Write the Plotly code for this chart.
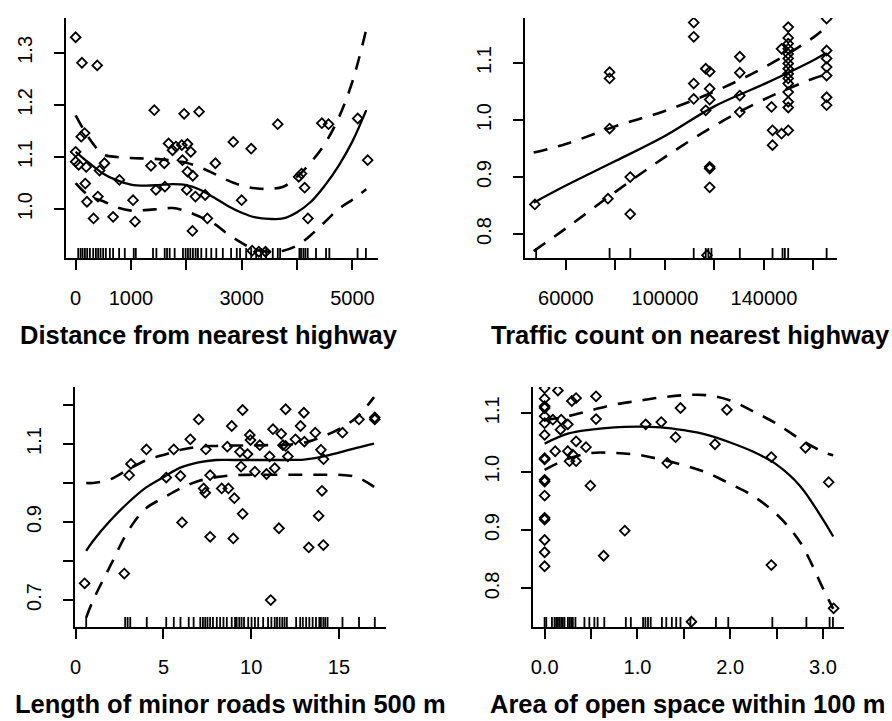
import plotly.graph_objects as go

# ---------------- Panel 1: Distance from nearest highway ----------------
dist_x = [0, 114, 390, 1421, 1960, 2230, 3651, 4448, 4568, 5096, 5276, 2848, 3171,
          162, 102, 0, 0, 54, 192, 521, 432, 174, 204, 402, 324, 677, 791, 1037,
          1073, 1361, 1451, 1601, 1613, 1679, 1751, 1811, 1918, 2020, 1930, 2020,
          2080, 2116, 2008, 2164, 2110, 2380, 2524, 2998, 3189, 3309, 3430, 4029,
          4080, 4137, 4196, 2340]
dist_y = [1.330, 1.281, 1.276, 1.190, 1.183, 1.187, 1.163, 1.165, 1.163, 1.174, 1.094,
          1.129, 1.116, 1.146, 1.139, 1.110, 1.091, 1.085, 1.081, 1.088, 1.074, 1.049,
          1.014, 1.024, 0.982, 0.985, 1.056, 1.017, 0.976, 1.083, 1.037, 1.088, 1.043,
          1.126, 1.113, 1.120, 1.123, 1.125, 1.094, 1.072, 1.110, 1.064, 1.037, 1.024,
          0.958, 0.982, 1.088, 1.017, 0.920, 0.918, 0.918, 1.062, 1.068, 1.041, 0.982,
          1.027]
dist_cx = [0, 250, 500, 750, 1000, 1250, 1500, 1750, 2000, 2250, 2500, 2750, 3000,
           3250, 3500, 3750, 4000, 4250, 4500, 4750, 5000, 5250]
dist_fit = [1.110, 1.088, 1.068, 1.055, 1.047, 1.045, 1.046, 1.048, 1.046, 1.037, 1.022,
            1.006, 0.993, 0.984, 0.981, 0.982, 0.994, 1.014, 1.045, 1.083, 1.130, 1.190]
dist_up = [1.180, 1.135, 1.105, 1.100, 1.098, 1.097, 1.096, 1.093, 1.089, 1.080, 1.068,
           1.055, 1.045, 1.040, 1.039, 1.043, 1.062, 1.090, 1.125, 1.175, 1.245, 1.345]
dist_lo = [1.050, 1.025, 1.015, 1.003, 0.997, 0.998, 1.000, 1.002, 0.996, 0.985, 0.972,
           0.952, 0.935, 0.922, 0.918, 0.920, 0.930, 0.950, 0.975, 1.000, 1.018, 1.038]
dist_rug = [47, 90, 126, 168, 209, 258, 317, 366, 407, 450, 497, 546, 618, 677, 786, 888,
            1050, 1087, 1398, 1459, 1609, 1651, 1699, 1789, 1939, 1987, 2029, 2072, 2119,
            2168, 2209, 2270, 2360, 2450, 2541, 2659, 2808, 2911, 2970, 3081, 3171, 3261,
            3351, 3441, 3561, 3652, 3694, 4042, 4072, 4114, 4150, 4192, 4342, 4523, 4583,
            5093, 5243]
dist_ticks = [0, 1000, 2000, 3000, 4000, 5000]
dist_ticktext = ["0", "1000", "", "3000", "", "5000"]
dist_yticks = [1.0, 1.1, 1.2, 1.3]
dist_yticktext = ["1.0", "1.1", "1.2", "1.3"]

# ---------------- Panel 2: Traffic count on nearest highway ----------------
traf_x = [47500, 77667, 77667, 77667, 77000, 86000, 86000, 111650, 111650, 111650,
          111650, 116500, 118100, 118100, 118100, 116500, 118100, 118100, 118100, 117000,
          130260, 130260, 130260, 130260, 143070, 143475, 143475, 147116, 149813, 149813,
          147116,
          149813, 149813, 149813, 149813, 149813, 149813, 149813, 149813, 149813, 149813,
          149813, 149813, 149813,
          165327, 165327, 165327, 165327, 165327, 165327, 165327]
traf_y = [0.852, 1.084, 1.073, 0.985, 0.862, 0.900, 0.835, 1.171, 1.146, 1.064,
          1.037, 1.090, 1.085, 1.055, 1.036, 1.017, 0.918, 0.915, 0.882, 0.763,
          1.111, 1.083, 1.043, 1.014, 1.023, 0.982, 0.956, 0.976, 0.982, 1.022,
          1.125,
          1.163, 1.144, 1.134, 1.125, 1.116, 1.108, 1.099, 1.090, 1.081, 1.073,
          1.064, 1.049, 1.032,
          1.178, 1.122, 1.108, 1.093, 1.078, 1.040, 1.026]
traf_cx = [47000, 60000, 80000, 100000, 120000, 140000, 160000, 165000]
traf_fit = [0.855, 0.885, 0.928, 0.972, 1.024, 1.063, 1.105, 1.117]
traf_up = [0.943, 0.958, 0.989, 1.016, 1.050, 1.092, 1.145, 1.163]
traf_lo = [0.770, 0.810, 0.874, 0.935, 0.990, 1.036, 1.073, 1.080]
traf_rug = [48000, 77667, 86027, 111650, 116500, 117580, 118800, 130260, 143475,
            147520, 148460, 149810, 165327]
traf_ticks = [60000, 80000, 100000, 120000, 140000, 160000]
traf_ticktext = ["60000", "", "100000", "", "140000", ""]
traf_yticks = [0.8, 0.9, 1.0, 1.1]
traf_yticktext = ["0.8", "0.9", "1.0", "1.1"]

# ---------------- Panel 3: Length of minor roads within 500 m ----------------
road_x = [0.51, 2.77, 3.05, 3.15, 4.03, 5.16, 5.59, 5.97, 6.06, 6.53, 7.01, 7.29, 7.38,
          7.42, 7.66, 7.66, 8.32, 8.64, 8.70, 8.89, 8.98, 9.04, 9.36, 9.42, 9.51, 9.51,
          9.79, 9.92, 9.96, 10.21, 10.49, 10.87, 11.05, 11.11, 11.24, 11.34, 11.58,
          11.71, 11.81, 11.96, 11.96, 12.09, 12.52, 12.81, 13.00, 13.03, 13.28, 13.65,
          13.84, 13.97, 14.03, 14.11, 14.12, 15.20, 16.14, 17.04, 17.04]
road_y = [0.743, 0.768, 1.020, 1.049, 1.086, 1.014, 1.086, 1.018, 0.899, 1.112, 1.163,
          0.986, 0.975, 1.086, 1.020, 0.862, 0.986, 1.093, 0.986, 1.146, 0.858, 0.961,
          1.080, 1.042, 1.187, 0.921, 1.074, 1.123, 1.110, 1.029, 1.097, 1.023, 1.068,
          0.700, 1.138, 1.038, 0.884, 1.126, 1.097, 1.095, 1.189, 1.068, 1.112, 1.146,
          1.180, 1.106, 0.835, 1.129, 0.916, 1.085, 0.980, 0.841, 1.061, 1.129, 1.163,
          1.168, 1.163]
road_cx = [0.6, 1, 2, 3, 4, 5, 6, 7, 8, 9, 10, 11, 12, 13, 14, 15, 16, 17]
road_fit = [0.826, 0.852, 0.905, 0.950, 0.988, 1.015, 1.040, 1.053, 1.059, 1.059, 1.059,
            1.059, 1.059, 1.060, 1.067, 1.078, 1.090, 1.101]
road_up = [1.000, 1.000, 1.010, 1.035, 1.058, 1.072, 1.085, 1.093, 1.095, 1.096, 1.096,
           1.097, 1.098, 1.103, 1.118, 1.138, 1.168, 1.220]
road_lo = [0.655, 0.700, 0.790, 0.878, 0.935, 0.962, 0.987, 1.005, 1.015, 1.020, 1.021,
           1.021, 1.021, 1.021, 1.021, 1.021, 1.015, 0.990]
road_rug = [0.60, 2.82, 2.96, 3.11, 4.05, 5.16, 5.59, 5.97, 6.44, 6.72, 7.10, 7.25, 7.38,
            7.51, 7.66, 7.82, 8.04, 8.23, 8.42, 8.61, 8.89, 9.08, 9.17, 9.32, 9.45, 9.59,
            9.83, 10.02, 10.21, 10.40, 10.68, 10.96, 11.15, 11.34, 11.47, 11.62, 11.77,
            11.90, 12.03, 12.56, 12.79, 12.94, 13.13, 13.31, 13.50, 13.69, 13.88, 13.97,
            14.11, 14.22, 14.35, 15.20, 16.14, 17.04]
road_ticks = [0, 5, 10, 15]
road_ticktext = ["0", "5", "10", "15"]
road_yticks = [0.7, 0.8, 0.9, 1.0, 1.1, 1.2]
road_yticktext = ["0.7", "", "0.9", "", "1.1", ""]

# ---------------- Panel 4: Area of open space within 100 m ----------------
open_x = [0, 0, 0, 0, 0, 0, 0, 0, 0, 0, 0, 0, 0, 0, 0, 0, 0,
          0.143, 0.089, 0.179, 0.171, 0.25, 0.293, 0.339, 0.554, 0.554, 0.114, 0.25,
          0.339, 0.446, 0.268, 0.339, 0.304, 0.493, 0.864, 0.636, 1.089, 1.257, 1.464,
          1.411, 1.321, 1.836, 1.964, 2.443, 2.443, 2.811, 3.061, 3.114, 1.582]
open_y = [1.143, 1.125, 1.112, 1.109, 1.095, 1.083, 1.063, 1.023, 1.021, 0.986, 0.983,
          0.959, 0.921, 0.918, 0.883, 0.862, 0.838,
          1.139, 1.089, 1.089, 1.072, 1.081, 1.121, 1.126, 1.129, 1.090, 1.035, 1.035,
          1.052, 1.042, 1.018, 1.018, 1.029, 0.976, 0.899, 0.856, 1.081, 1.085, 1.109,
          1.059, 1.015, 1.047, 1.106, 1.025, 0.840, 1.041, 0.982, 0.766, 0.743]
open_cx = [0.0, 0.25, 0.5, 0.75, 1.0, 1.25, 1.5, 1.75, 2.0, 2.25, 2.5, 2.75, 3.0, 3.11]
open_fit = [1.048, 1.065, 1.072, 1.076, 1.077, 1.076, 1.071, 1.063, 1.050, 1.034, 1.012,
            0.976, 0.918, 0.889]
open_up = [1.088, 1.095, 1.105, 1.115, 1.121, 1.127, 1.131, 1.131, 1.122, 1.103, 1.082,
           1.056, 1.034, 1.028]
open_lo = [1.003, 1.022, 1.032, 1.032, 1.029, 1.021, 1.011, 0.998, 0.979, 0.958, 0.927,
           0.880, 0.800, 0.765]
open_rug = [0, 0.018, 0.079, 0.107, 0.125, 0.143, 0.161, 0.179, 0.196, 0.214, 0.25,
            0.268, 0.286, 0.304, 0.332, 0.429, 0.482, 0.536, 0.571, 0.643, 0.875, 0.929,
            1.061, 1.086, 1.114, 1.143, 1.264, 1.311, 1.371, 1.418, 1.464, 1.571, 1.846,
            1.979, 2.454, 2.821, 3.071, 3.107]
open_ticks = [0, 0.5, 1.0, 1.5, 2.0, 2.5, 3.0]
open_ticktext = ["0.0", "", "1.0", "", "2.0", "", "3.0"]
open_yticks = [0.8, 0.9, 1.0, 1.1]
open_yticktext = ["0.8", "0.9", "1.0", "1.1"]

titles = ["Distance from nearest highway", "Traffic count on nearest highway",
          "Length of minor roads within 500 m", "Area of open space within 100 m"]

W, H = 892, 721
FONT = "Liberation Sans"

panels = [
    dict(px=dist_x, py=dist_y, cx=dist_cx, fit=dist_fit, up=dist_up, lo=dist_lo, rug=dist_rug,
         box=(61, 375, 18, 258), xr=[-180, 5460], yr=[0.906, 1.367],
         xt=dist_ticks, xtt=dist_ticktext, yt=dist_yticks, ytt=dist_yticktext,
         title_pos=(205, 335)),
    dict(px=traf_x, py=traf_y, cx=traf_cx, fit=traf_fit, up=traf_up, lo=traf_lo, rug=traf_rug,
         box=(523, 837, 18, 258), xr=[43530, 169640], yr=[0.758, 1.179],
         xt=traf_ticks, xtt=traf_ticktext, yt=traf_yticks, ytt=traf_yticktext,
         title_pos=(689, 335)),
    dict(px=road_x, py=road_y, cx=road_cx, fit=road_fit, up=road_up, lo=road_lo, rug=road_rug,
         box=(70, 383, 387, 627), xr=[-0.06, 17.67], yr=[0.631, 1.246],
         xt=road_ticks, xtt=road_ticktext, yt=road_yticks, ytt=road_yticktext,
         title_pos=(227, 704)),
    dict(px=open_x, py=open_y, cx=open_cx, fit=open_fit, up=open_up, lo=open_lo, rug=open_rug,
         box=(531, 844, 387, 627), xr=[-0.125, 3.229], yr=[0.734, 1.145],
         xt=open_ticks, xtt=open_ticktext, yt=open_yticks, ytt=open_yticktext,
         title_pos=(686, 704)),
]

fig = go.Figure()
shapes = []
annotations = []
layout_axes = {}

for k, p in enumerate(panels, start=1):
    xa = "x" if k == 1 else f"x{k}"
    ya = "y" if k == 1 else f"y{k}"
    xname = "xaxis" if k == 1 else f"xaxis{k}"
    yname = "yaxis" if k == 1 else f"yaxis{k}"
    x0, x1, y0, y1 = p["box"]

    fig.add_trace(go.Scatter(x=p["px"], y=p["py"], mode="markers", xaxis=xa, yaxis=ya,
                             marker=dict(symbol="diamond-open", size=7.5, color="black",
                                         line=dict(width=1.8, color="black")),
                             hoverinfo="skip"))
    fig.add_trace(go.Scatter(x=p["cx"], y=p["fit"], mode="lines", xaxis=xa, yaxis=ya,
                             line=dict(color="black", width=2.3, shape="spline")))
    for band in (p["up"], p["lo"]):
        fig.add_trace(go.Scatter(x=p["cx"], y=band, mode="lines", xaxis=xa, yaxis=ya,
                                 line=dict(color="black", width=2.6, shape="spline",
                                           dash="14px,11px")))

    for v in p["rug"]:
        shapes.append(dict(type="line", xref=xa, yref=f"{ya} domain", x0=v, x1=v,
                           y0=0, y1=10 / (y1 - y0), line=dict(color="black", width=1.8)))

    common = dict(showline=True, linecolor="black", linewidth=2, mirror=False,
                  ticks="outside", ticklen=10, tickwidth=2, tickcolor="black",
                  showgrid=False, zeroline=False,
                  tickfont=dict(family=FONT, size=20, color="black"))
    layout_axes[xname] = dict(domain=[x0 / W, x1 / W], anchor=ya, range=p["xr"],
                              tickmode="array", tickvals=p["xt"], ticktext=p["xtt"],
                              ticklabelstandoff=11, **common)
    layout_axes[yname] = dict(domain=[1 - y1 / H, 1 - y0 / H], anchor=xa, range=p["yr"],
                              tickmode="array", tickvals=p["yt"], ticktext=p["ytt"],
                              tickangle=-90, ticklabelstandoff=14, **common)

    tx, ty = p["title_pos"]
    annotations.append(dict(text=titles[k - 1], xref="paper", yref="paper",
                            x=tx / W, y=1 - ty / H, xanchor="center", yanchor="middle",
                            showarrow=False,
                            font=dict(family=FONT, size=25.5, color="black", weight="bold")))

fig.update_layout(width=W, height=H, margin=dict(l=0, r=0, t=0, b=0),
                  paper_bgcolor="white", plot_bgcolor="white", showlegend=False,
                  hovermode=False,
                  shapes=shapes, annotations=annotations, **layout_axes)

fig.write_html("out.html", config={"displayModeBar": False, "staticPlot": True},
               post_script="document.body.style.margin='0';document.body.style.overflow='hidden';")
